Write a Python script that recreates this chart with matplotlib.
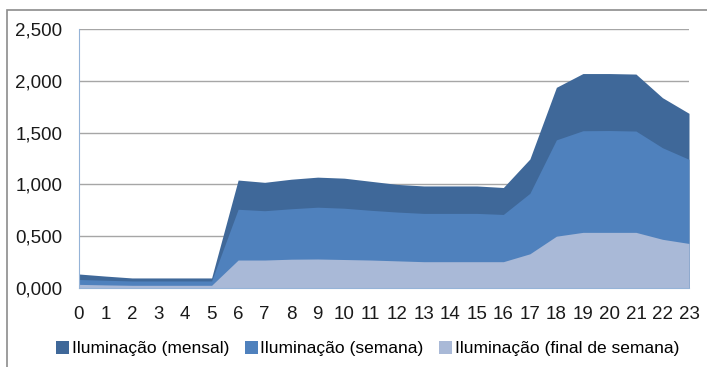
import numpy as np
import matplotlib.pyplot as plt
from matplotlib.patches import Rectangle

# hourly lighting load profiles
hours = list(range(24))
mensal = [0.135, 0.115, 0.097, 0.097, 0.097, 0.097, 1.042, 1.02, 1.05, 1.07, 1.06, 1.03,
          1.00, 0.985, 0.985, 0.985, 0.97, 1.245, 1.937, 2.07, 2.07, 2.065, 1.837, 1.686]
semana = [0.082, 0.075, 0.068, 0.068, 0.068, 0.068, 0.76, 0.746, 0.765, 0.78, 0.77, 0.75,
          0.733, 0.72, 0.72, 0.72, 0.71, 0.914, 1.43, 1.518, 1.52, 1.515, 1.354, 1.242]
final_semana = [0.035, 0.03, 0.026, 0.026, 0.026, 0.026, 0.27, 0.27, 0.278, 0.28, 0.275, 0.27,
                0.262, 0.254, 0.254, 0.254, 0.254, 0.33, 0.50, 0.537, 0.537, 0.537, 0.47, 0.43]
series_names = ['Iluminação (mensal)', 'Iluminação (semana)', 'Iluminação (final de semana)']
y_ticks = [0, 0.5, 1.0, 1.5, 2.0, 2.5]

colours = ['#3f6899', '#4f81bd', '#a9b9d7']

plt.rcParams['font.family'] = ['Liberation Sans', 'DejaVu Sans']
fig = plt.figure(figsize=(7.07, 3.67), dpi=100)
ax = fig.add_axes([79/707, 1-288/367, 610/707, 259/367])

# outer chart border
fig.patches.append(Rectangle((7/707, -0.1), 1.1, 1-10/367+0.1, transform=fig.transFigure,
                             fill=False, edgecolor='#8c8c8c', linewidth=1.2, zorder=0))

handles = []
for vals, c, name in zip([mensal, semana, final_semana], colours, series_names):
    h = ax.fill_between(hours, 0, vals, color=c, linewidth=0, label=name, zorder=2)
    handles.append(h)

ax.set_xlim(0, 23)
ax.set_ylim(0, 2.5)
ax.set_yticks(y_ticks)
ax.set_yticklabels([f'{v:.3f}'.replace('.', ',') for v in y_ticks])
ax.set_xticks(hours)
ax.set_xticklabels([str(h) for h in hours])
ax.tick_params(axis='both', length=0, labelsize=13.5, colors='#1a1a1a')
ax.tick_params(axis='x', pad=13)
ax.tick_params(axis='y', pad=12)
ax.grid(axis='y', color='#a6a6a6', linewidth=1.0, zorder=1)
ax.set_axisbelow(True)
for side in ['top', 'right']:
    ax.spines[side].set_visible(False)
ax.spines['left'].set_color('#95b3d7')
ax.spines['bottom'].set_color('#95b3d7')

fig.legend(handles=handles, loc='center', bbox_to_anchor=(0.52, 0.05), ncol=3,
           frameon=False, fontsize=12.5, handlelength=0.75, handleheight=0.75,
           handletextpad=0.15, columnspacing=0.9)

fig.savefig('out.png', dpi=100)
